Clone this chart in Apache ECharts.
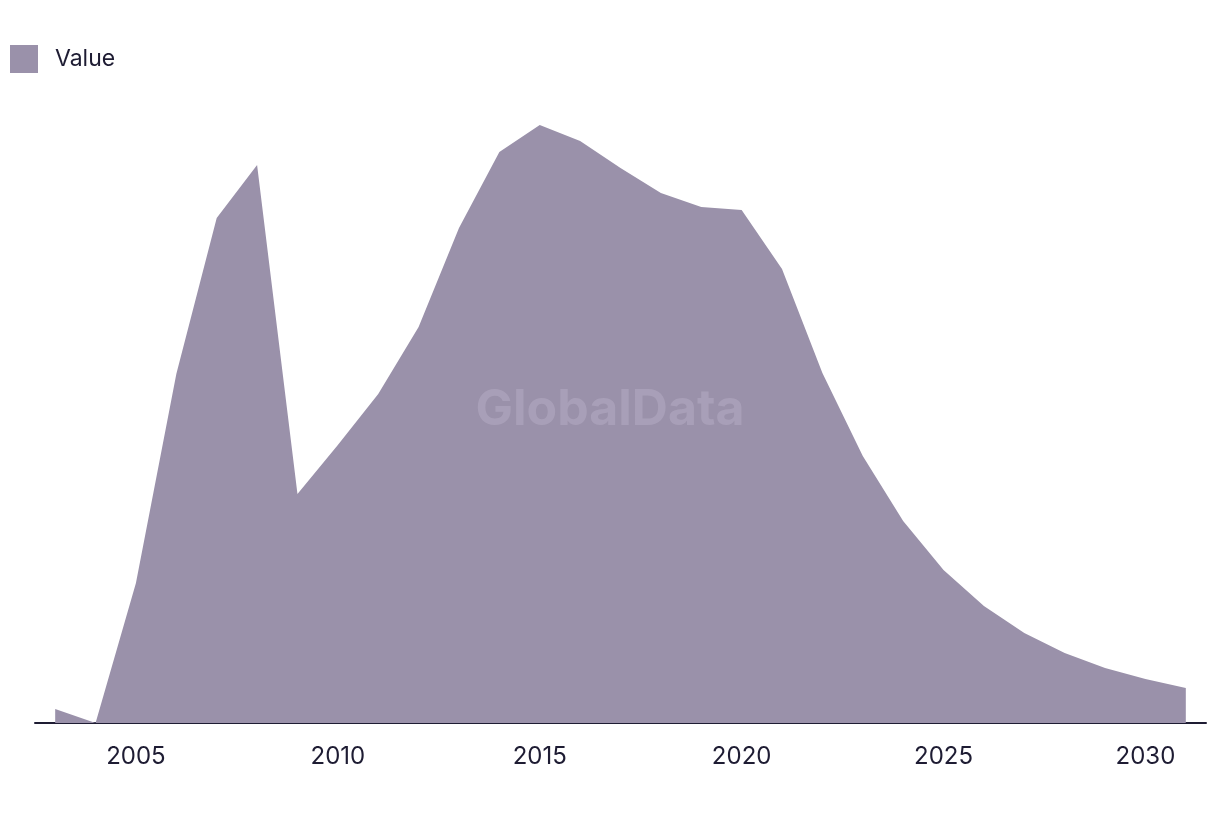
<!DOCTYPE html>
<html>
<head>
<meta charset="utf-8">
<script src="https://cdn.jsdelivr.net/npm/echarts@6/dist/echarts.min.js"></script>
<style>html,body{margin:0;padding:0;background:#fff}#c{width:1220px;height:814px}</style>
</head>
<body>
<div id="c"></div>
<script>
const years = ['2003','2004','2005','2006','2007','2008','2009','2010','2011','2012','2013','2014','2015','2016','2017','2018','2019','2020','2021','2022','2023','2024','2025','2026','2027','2028','2029','2030','2031'];
const values = [1.4,0,14.0,34.9,50.5,55.8,22.9,27.8,32.9,39.6,49.5,57.1,59.8,58.2,55.5,53.0,51.6,51.3,45.4,35.0,26.7,20.2,15.3,11.7,9.0,7.0,5.5,4.4,3.5];
const seriesName = 'Value';

const chart = echarts.init(document.getElementById('c'), null, {renderer:'canvas'});
chart.setOption({
  animation:false,
  backgroundColor:'#ffffff',
  textStyle:{fontFamily:'Inter'},
  legend:{
    left:5, top:40, itemWidth:28, itemHeight:28, icon:'rect',
    data:[seriesName],
    textStyle:{fontFamily:'Inter', fontSize:23, color:'#1e1c33', padding:[0,0,0,12]}
  },
  graphic:[{
    type:'text', left:'center', top:385, silent:true, z:100,
    style:{text:'GlobalData', font:'bold 50px Inter', fill:'rgba(180,172,195,0.55)', x:0, y:0}
  }],
  grid:{left:35, right:14, top:123, bottom:91},
  xAxis:{
    type:'category', data:years, boundaryGap:true,
    axisLine:{lineStyle:{color:'#1e1c33', width:2}},
    axisTick:{show:false},
    axisLabel:{
      interval:(i)=> (2003+i)%5===0,
      fontFamily:'Inter', fontSize:24, color:'#1e1c33', margin:22
    },
    splitLine:{show:false}
  },
  yAxis:{type:'value', min:0, max:60, show:false, splitLine:{show:false}},
  series:[{
    name:seriesName, type:'line', data:values, symbol:'none',
    lineStyle:{width:0, color:'#9a91aa'},
    itemStyle:{color:'#9a91aa'},
    areaStyle:{color:'#9a91aa', opacity:1}
  }]
});
</script>
</body>
</html>
